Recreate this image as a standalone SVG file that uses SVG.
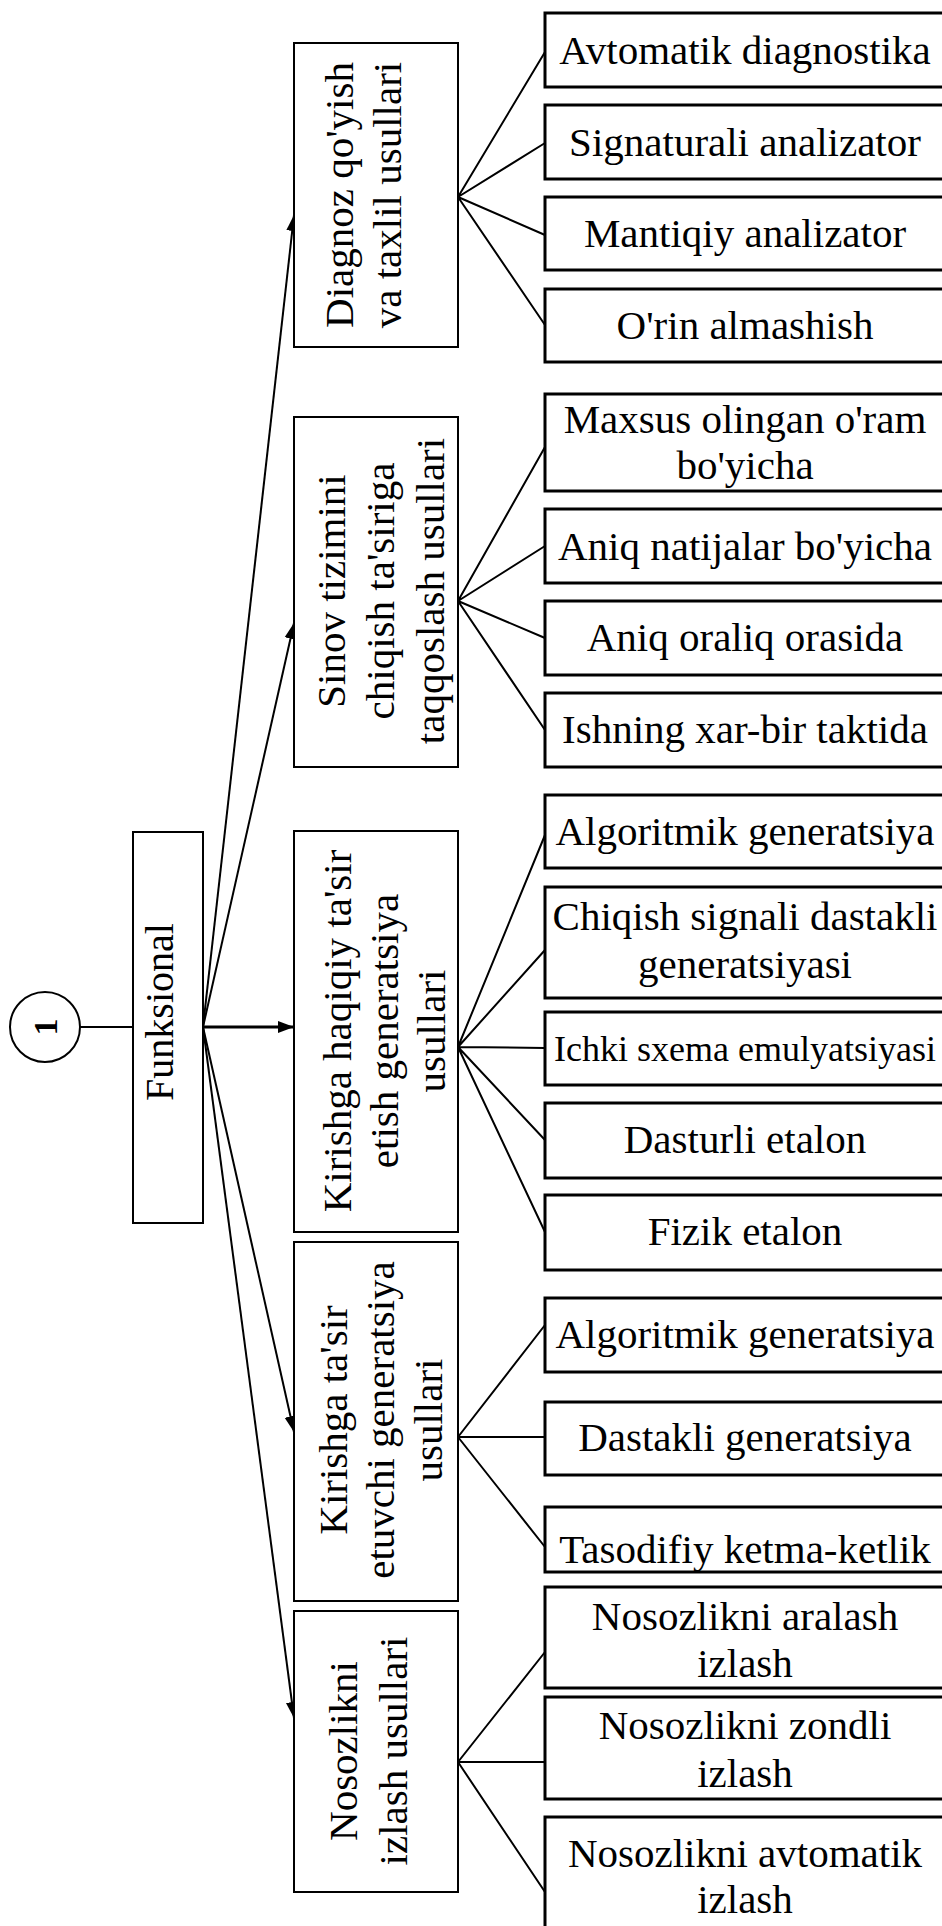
<svg xmlns="http://www.w3.org/2000/svg" width="942" height="1926" viewBox="0 0 942 1926">
<style>
.bx{fill:#fff;stroke:#000;stroke-width:2}
.rb{fill:#fff;stroke:#000;stroke-width:3}
.t{font-family:"Liberation Serif","Times New Roman",serif;font-size:41px;fill:#000;text-anchor:middle}
.v{font-family:"Liberation Serif","Times New Roman",serif;font-size:41px;fill:#000;text-anchor:middle}
.ln{stroke:#000;stroke-width:2;fill:none}
.ar{stroke:#000;stroke-width:2;fill:none;marker-end:url(#ah)}
</style>
<defs>
<marker id="ah" markerUnits="userSpaceOnUse" markerWidth="17" markerHeight="14" refX="16" refY="7" orient="auto">
<path d="M0,1 L16,7 L0,13 z" fill="#000"/>
</marker>
<clipPath id="clipTas"><rect x="545" y="1507" width="400" height="64"/></clipPath>
</defs>
<rect width="942" height="1926" fill="#fff"/>

<g id="connectors">
<line class="ln" x1="80" y1="1027" x2="133" y2="1027"/>
<line class="ar" x1="203" y1="1027" x2="294" y2="215"/>
<line class="ar" x1="203" y1="1027" x2="294" y2="623"/>
<line class="ar" x1="203" y1="1027" x2="294" y2="1027" style="stroke-width:3"/>
<line class="ar" x1="203" y1="1027" x2="294" y2="1432"/>
<line class="ar" x1="203" y1="1027" x2="294" y2="1718"/>
<path class="ln" d="M458,197 L545,52 M458,197 L545,143 M458,197 L545,235 M458,197 L545,325"/>
<path class="ln" d="M458,601 L545,447 M458,601 L545,546 M458,601 L545,638 M458,601 L545,730"/>
<path class="ln" d="M458,1047 L545,835 M458,1047 L545,950 M458,1047 L545,1048 M458,1047 L545,1140 M458,1047 L545,1232"/>
<path class="ln" d="M458,1437 L545,1325 M458,1437 L545,1437 M458,1437 L545,1547"/>
<path class="ln" d="M458,1762 L545,1652 M458,1762 L545,1762 M458,1762 L545,1892"/>
</g>

<g id="n1">
<circle cx="45" cy="1027" r="35" fill="#fff" stroke="#000" stroke-width="2"/>
<text transform="translate(57,1027) rotate(-90)" style="font-family:'Liberation Serif',serif;font-size:34px;font-weight:bold;text-anchor:middle">1</text>
</g>

<g id="funksional">
<rect class="bx" x="133" y="832" width="70" height="391"/>
<text class="v" transform="translate(173,1012) rotate(-90)" style="font-size:40px">Funksional</text>
</g>

<g id="diagnoz">
<rect class="bx" x="294" y="43" width="164" height="304"/>
<text class="v" transform="translate(353,195) rotate(-90)">Diagnoz qo'yish</text>
<text class="v" transform="translate(401,195) rotate(-90)">va taxlil usullari</text>
</g>

<g id="sinov">
<rect class="bx" x="294" y="417" width="164" height="350"/>
<text class="v" transform="translate(345,591) rotate(-90)">Sinov tizimini</text>
<text class="v" transform="translate(394,591) rotate(-90)">chiqish ta'siriga</text>
<text class="v" transform="translate(444,591) rotate(-90)">taqqoslash usullari</text>
</g>

<g id="kirishga-haqiqiy">
<rect class="bx" x="294" y="831" width="164" height="401"/>
<text class="v" transform="translate(351,1031) rotate(-90)">Kirishga haqiqiy ta'sir</text>
<text class="v" transform="translate(398,1031) rotate(-90)">etish generatsiya</text>
<text class="v" transform="translate(445,1031) rotate(-90)">usullari</text>
</g>

<g id="kirishga-tasir">
<rect class="bx" x="294" y="1242" width="164" height="359"/>
<text class="v" transform="translate(347,1420) rotate(-90)">Kirishga ta'sir</text>
<text class="v" transform="translate(394,1420) rotate(-90)">etuvchi generatsiya</text>
<text class="v" transform="translate(442,1420) rotate(-90)">usullari</text>
</g>

<g id="nosozlikni">
<rect class="bx" x="294" y="1611" width="164" height="281"/>
<text class="v" transform="translate(357,1751) rotate(-90)">Nosozlikni</text>
<text class="v" transform="translate(407,1751) rotate(-90)">izlash usullari</text>
</g>

<g id="avtomatik-diagnostika"><rect class="rb" x="545" y="13" width="400" height="74"/><text class="t" x="745" y="64">Avtomatik diagnostika</text></g>
<g id="signaturali"><rect class="rb" x="545" y="105" width="400" height="74"/><text class="t" x="745" y="156">Signaturali analizator</text></g>
<g id="mantiqiy"><rect class="rb" x="545" y="197" width="400" height="73"/><text class="t" x="745" y="247">Mantiqiy analizator</text></g>
<g id="orin"><rect class="rb" x="545" y="289" width="400" height="73"/><text class="t" x="745" y="339">O'rin almashish</text></g>

<g id="maxsus"><rect class="rb" x="545" y="394" width="400" height="97"/><text class="t" x="745" y="433">Maxsus olingan o'ram</text><text class="t" x="745" y="479">bo'yicha</text></g>
<g id="aniq-natijalar"><rect class="rb" x="545" y="509" width="400" height="74"/><text class="t" x="745" y="560">Aniq natijalar bo'yicha</text></g>
<g id="aniq-oraliq"><rect class="rb" x="545" y="601" width="400" height="74"/><text class="t" x="745" y="651">Aniq oraliq orasida</text></g>
<g id="ishning"><rect class="rb" x="545" y="693" width="400" height="74"/><text class="t" x="745" y="743">Ishning xar-bir taktida</text></g>

<g id="algoritmik-1"><rect class="rb" x="545" y="795" width="400" height="73"/><text class="t" x="745" y="845">Algoritmik generatsiya</text></g>
<g id="chiqish"><rect class="rb" x="545" y="887" width="400" height="111"/><text class="t" x="745" y="930">Chiqish signali dastakli</text><text class="t" x="745" y="978">generatsiyasi</text></g>
<g id="ichki"><rect class="rb" x="545" y="1012" width="400" height="73"/><text class="t" x="745" y="1061" style="font-size:36px">Ichki sxema emulyatsiyasi</text></g>
<g id="dasturli"><rect class="rb" x="545" y="1103" width="400" height="75"/><text class="t" x="745" y="1153">Dasturli etalon</text></g>
<g id="fizik"><rect class="rb" x="545" y="1195" width="400" height="75"/><text class="t" x="745" y="1245">Fizik etalon</text></g>

<g id="algoritmik-2"><rect class="rb" x="545" y="1298" width="400" height="74"/><text class="t" x="745" y="1348">Algoritmik generatsiya</text></g>
<g id="dastakli"><rect class="rb" x="545" y="1402" width="400" height="73"/><text class="t" x="745" y="1451">Dastakli generatsiya</text></g>
<g id="tasodifiy"><rect class="rb" x="545" y="1507" width="400" height="65"/><text class="t" x="745" y="1563" clip-path="url(#clipTas)">Tasodifiy ketma-ketlik</text></g>

<g id="nosoz-aralash"><rect class="rb" x="545" y="1587" width="400" height="101"/><text class="t" x="745" y="1630">Nosozlikni aralash</text><text class="t" x="745" y="1677">izlash</text></g>
<g id="nosoz-zondli"><rect class="rb" x="545" y="1697" width="400" height="102"/><text class="t" x="745" y="1739">Nosozlikni zondli</text><text class="t" x="745" y="1787">izlash</text></g>
<g id="nosoz-avtomatik"><rect class="rb" x="545" y="1817" width="400" height="120"/><text class="t" x="745" y="1867">Nosozlikni avtomatik</text><text class="t" x="745" y="1913">izlash</text></g>
</svg>
